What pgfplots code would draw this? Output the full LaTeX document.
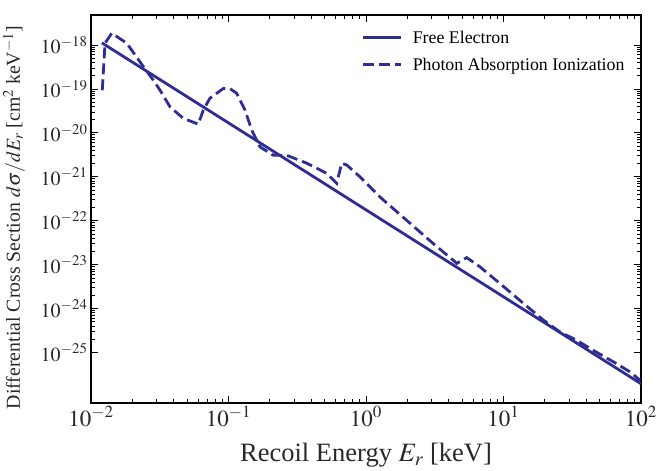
\documentclass[border=0pt]{standalone}
\usepackage{mathptmx}
\usepackage{fontspec}
\setmainfont{Liberation Serif}
\usepackage{pgfplots}
\pgfplotsset{compat=1.18}
\definecolor{cblue}{RGB}{45,45,148}
\definecolor{tickgray}{RGB}{40,40,40}
\begin{document}
\begin{tikzpicture}
\begin{axis}[
  scale only axis, width=550pt, height=388pt,
  xmode=log, ymode=log,
  xmin=1e-2, xmax=1e2, ymin=7.1e-27, ymax=4.82e-18,
  xtick={1e-2,1e-1,1,1e1,1e2},
  ytick={1e-25,1e-24,1e-23,1e-22,1e-21,1e-20,1e-19,1e-18},
  tick align=inside,
  major tick length=7pt, minor tick length=4pt,
  every tick/.style={black, line width=0.8pt},
  axis line style={black, line width=1.3pt},
  yticklabel style={font=\fontsize{20}{24}\selectfont, text=tickgray},
  xticklabel style={font=\fontsize{23}{26}\selectfont, text=tickgray},
  xlabel={Recoil Energy $E_r$ [keV]},
  ylabel={Differential Cross Section $d\sigma/dE_r$ [cm$^2$ keV$^{-1}$]},
  xlabel style={at={(axis description cs:0.5,-0.152)}, anchor=base, font=\fontsize{26.5}{30}\selectfont, text=tickgray},
  ylabel style={at={(axis description cs:-0.1291,0.478)}, anchor=base, font=\fontsize{19.8}{23}\selectfont, text=tickgray},
  legend style={draw=none, fill=none, at={(rel axis cs:0.487,0.97)}, anchor=north west,
    font=\fontsize{17.8}{21}\selectfont, row sep=9pt, column sep=8pt},
  legend cell align=left,
  legend image code/.code={\draw[#1] (0pt,0pt) -- (38pt,0pt);},
]
\coordinate (bl) at (rel axis cs:0,0);
\coordinate (tr) at (rel axis cs:1,1);
\addplot[cblue, line width=2.8pt] coordinates {(0.012,1.12e-18) (100,1.95e-26)};
\addlegendentry{Free Electron}
\addplot[cblue, line width=2.8pt, dash pattern=on 11pt off 5pt] coordinates {
(0.01208,9.33e-20) (0.01265,1.10e-18) (0.01416,1.86e-18) (0.0182,1.10e-18)
(0.0240,3.24e-19) (0.0284,1.58e-19) (0.0318,9.33e-20) (0.0376,3.89e-20)
(0.0469,2.14e-20) (0.0603,1.58e-20) (0.0656,3.31e-20) (0.0733,6.17e-20)
(0.0916,1.02e-19) (0.1026,1.02e-19) (0.1148,7.94e-20) (0.1318,3.31e-20)
(0.1476,1.15e-20) (0.1695,4.79e-21) (0.212,3.09e-21) (0.265,3.09e-21)
(0.371,2.04e-21) (0.518,1.20e-21) (0.612,7.08e-22) (0.666,2.04e-21)
(0.724,1.86e-21) (0.904,1.00e-21) (1.264,3.47e-22) (1.977,1.02e-22)
(3.086,3.02e-23) (4.31,1.26e-23) (4.57,1.07e-23) (5.40,1.45e-23)
(6.75,8.91e-24) (9.43,3.72e-24) (13.94,1.32e-24) (19.47,5.50e-25)
(25.7,2.95e-25) (34.0,1.91e-25) (45.0,1.12e-25) (62.9,6.17e-26)
(83.2,3.63e-26) (98.4,2.34e-26)};
\addlegendentry{Photon Absorption Ionization}
\end{axis}
\pgfresetboundingbox
\path ([shift={(-91pt,-67.3pt)}]bl) rectangle ([shift={(16pt,15pt)}]tr);
\end{tikzpicture}
\end{document}
